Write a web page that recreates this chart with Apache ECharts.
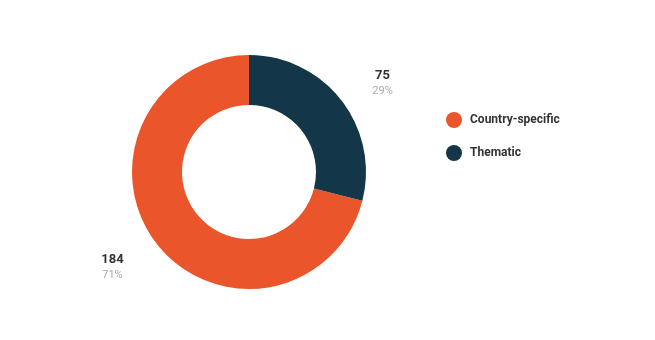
<!DOCTYPE html>
<html><head><meta charset="utf-8">
<script src="https://cdn.jsdelivr.net/npm/echarts@6/dist/echarts.min.js"></script>
<style>html,body{margin:0;padding:0;background:#fff}#c{width:655px;height:340px}</style>
</head><body><div id="c"></div>
<script>
const categories = ['Country-specific', 'Thematic'];
const values = [184, 75];
const colors = ['#EA552B', '#133748'];

const chart = echarts.init(document.getElementById('c'));
chart.setOption({
  animation: false,
  textStyle: { fontFamily: 'Roboto' },
  legend: {
    orient: 'vertical',
    left: 441, top: 107,
    icon: 'circle',
    itemWidth: 16, itemHeight: 16,
    itemGap: 17,
    textStyle: { fontFamily: 'Roboto', fontSize: 12, fontWeight: 'bold', color: '#333', padding: [0, 0, 0, 3] },
    data: categories
  },
  series: [{
    type: 'pie',
    center: [249, 172],
    radius: [67, 117],
    startAngle: 90,
    clockwise: false,
    percentPrecision: 0,
    label: {
      show: true,
      position: 'outside',
      formatter: '{v|{c}}\n{p|{d}%}',
      rich: {
        v: { fontFamily: 'Roboto', fontSize: 13, fontWeight: 'bold', color: '#333', lineHeight: 16, align: 'center' },
        p: { fontFamily: 'Roboto', fontSize: 11, color: '#aaa', lineHeight: 15, align: 'center' }
      }
    },
    labelLine: { show: false, length: 38, length2: 0 },
    labelLayout: function (params) {
      return params.labelRect.x > 249 ? { dx: -4, dy: 6 } : { dx: 2 };
    },
    emphasis: { disabled: true },
    data: categories.map((n, i) => ({ name: n, value: values[i], itemStyle: { color: colors[i] } }))
  }]
});
</script></body></html>
